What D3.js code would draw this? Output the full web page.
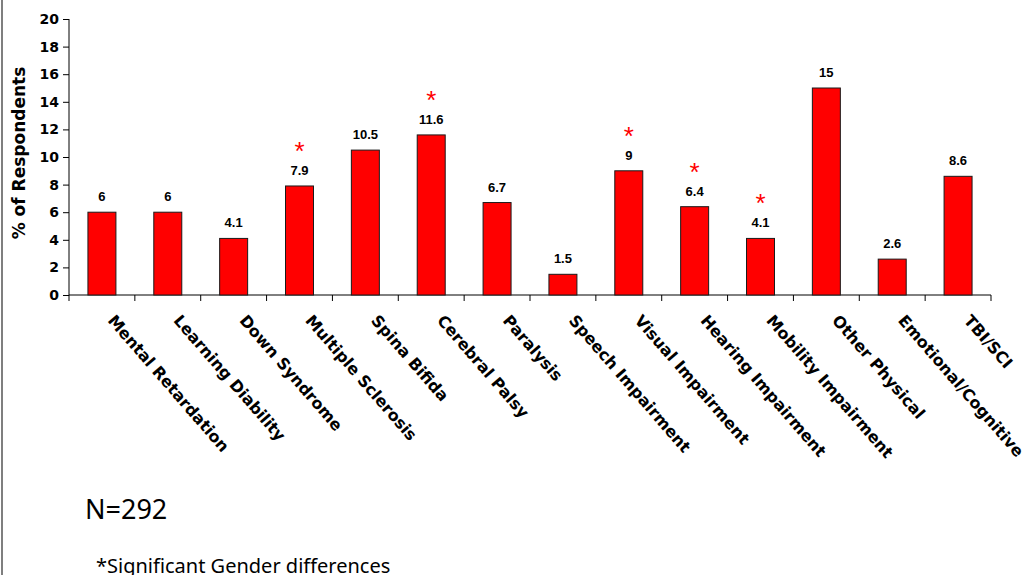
<!DOCTYPE html>
<html>
<head>
<meta charset="utf-8">
<script src="https://cdn.jsdelivr.net/npm/d3@7"></script>
<style>
  html, body { margin: 0; padding: 0; background: #fff; }
  svg { display: block; }
</style>
</head>
<body>
<svg id="chart" width="1024" height="575"></svg>
<script>
const categories = ["Mental Retardation","Learning Diability","Down Syndrome","Multiple Sclerosis","Spina Bifida","Cerebral Palsy","Paralysis","Speech Impairment","Visual Impairment","Hearing Impairment","Mobility Impairment","Other Physical","Emotional/Cognitive","TBI/SCI"];
const values = [6, 6, 4.1, 7.9, 10.5, 11.6, 6.7, 1.5, 9, 6.4, 4.1, 15, 2.6, 8.6];
const valueLabels = ["6","6","4.1","7.9","10.5","11.6","6.7","1.5","9","6.4","4.1","15","2.6","8.6"];
const significant = [false, false, false, true, false, true, false, false, true, true, true, false, false, false];
const yTicks = [0, 2, 4, 6, 8, 10, 12, 14, 16, 18, 20];
const yTitle = "% of Respondents";
const nText = "N=292";
const footnote = "*Significant Gender differences";

const svg = d3.select("#chart");
const boldFont = "'DejaVu Sans', Verdana, sans-serif";

// left gray slide border
svg.append("line").attr("x1", 2).attr("x2", 2).attr("y1", 0).attr("y2", 575)
  .attr("stroke", "#7f7f7f").attr("stroke-width", 2);

const x = d3.scaleBand().domain(categories).range([69, 991])
  .paddingInner(0.575).paddingOuter(0.2875);
const y = d3.scaleLinear().domain([0, 20]).range([295, 19]);
const step = x.step();
const cx = c => x(c) + x.bandwidth() / 2;

// Y axis
const yAxis = svg.append("g").attr("transform", "translate(69,0)")
  .call(d3.axisLeft(y).tickValues(yTicks).tickSize(6).tickPadding(4));
yAxis.select(".domain").attr("stroke", "#000").attr("d", `M0,${y(20)}V${y(0)}`);
yAxis.selectAll(".tick line").attr("stroke", "#000");
yAxis.selectAll(".tick text").attr("font-family", boldFont)
  .attr("font-weight", "bold").attr("font-size", 14).attr("fill", "#000");

// X axis line and ticks at band boundaries
const xAxis = svg.append("g");
xAxis.append("line").attr("x1", 69).attr("x2", 991).attr("y1", y(0)).attr("y2", y(0))
  .attr("stroke", "#000");
const edges = categories.map(c => cx(c) - step / 2).concat([cx(categories[categories.length - 1]) + step / 2]);
xAxis.selectAll("line.tk").data(edges).enter().append("line").attr("class", "tk")
  .attr("x1", d => d).attr("x2", d => d).attr("y1", y(0)).attr("y2", y(0) + 6)
  .attr("stroke", "#000");

// Bars
svg.append("g").selectAll("rect").data(categories).enter().append("rect")
  .attr("x", c => x(c)).attr("width", x.bandwidth())
  .attr("y", (c, i) => y(values[i])).attr("height", (c, i) => y(0) - y(values[i]))
  .attr("fill", "#ff0000").attr("stroke", "#1a1a1a").attr("stroke-width", 1);

// Value labels
svg.append("g").selectAll("text").data(categories).enter().append("text")
  .attr("x", c => cx(c)).attr("y", (c, i) => y(values[i]) - 11)
  .attr("text-anchor", "middle")
  .attr("font-family", "'Liberation Sans', Arial, sans-serif").attr("font-weight", "bold")
  .attr("font-size", 13).attr("fill", "#000")
  .text((c, i) => valueLabels[i]);

// Significance asterisks
svg.append("g").selectAll("text").data(categories.filter((c, i) => significant[i])).enter().append("text")
  .attr("x", c => cx(c)).attr("y", c => y(values[categories.indexOf(c)]) - 26)
  .attr("text-anchor", "middle")
  .attr("font-family", "'Liberation Sans', Arial, sans-serif")
  .attr("font-size", 26).attr("fill", "#ff0000")
  .text("*");

// Category labels (rotated)
svg.append("g").selectAll("text").data(categories).enter().append("text")
  .attr("transform", c => `translate(${cx(c) + 5},${y(0) + 26}) rotate(49)`)
  .attr("font-family", boldFont).attr("font-weight", "bold")
  .attr("font-size", 16).attr("fill", "#000")
  .text(c => c);

// Y axis title
svg.append("text").attr("transform", `translate(25,153) rotate(-90)`)
  .attr("text-anchor", "middle")
  .attr("font-family", boldFont).attr("font-weight", "bold")
  .attr("font-size", 17).attr("fill", "#000")
  .text(yTitle);

// N text and footnote
svg.append("text").attr("x", 85).attr("y", 519)
  .attr("font-family", "'Noto Sans', Tahoma, sans-serif").attr("font-size", 27).attr("fill", "#000")
  .text(nText);
svg.append("text").attr("x", 96).attr("y", 573)
  .attr("font-family", "'Noto Sans', Tahoma, sans-serif").attr("font-size", 20).attr("fill", "#000")
  .text(footnote);
</script>
</body>
</html>
